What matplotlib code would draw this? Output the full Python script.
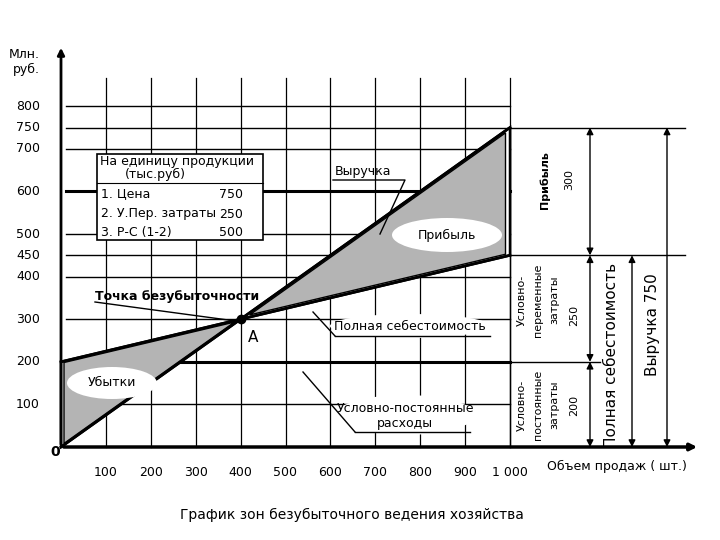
import matplotlib
matplotlib.use("Agg")
import matplotlib.pyplot as plt
import numpy as np
from matplotlib.patches import Ellipse, Polygon

# data
volume = [0, 400, 1000]
revenue = [0, 300, 750]
full_cost = [200, 300, 450]
fixed_cost = 200
x_ticks = [100, 200, 300, 400, 500, 600, 700, 800, 900, 1000]
y_ticks = [100, 200, 300, 400, 500, 600, 700, 800]
y_extra = [450, 750]


def px(x, y):
    # pixel of the reference -> data
    return (x - 61) / 0.449, (447 - y) / 0.426


def zone(pts, k=0.95):
    # outer triangle in white with a slightly smaller grey one inside
    pts = np.array(pts, dtype=float)
    c = pts.mean(axis=0)
    inner = c + (pts - c) * k
    ax.add_patch(Polygon(pts, closed=True, fc="white", ec="black", lw=1.8, zorder=2))
    ax.add_patch(Polygon(inner, closed=True, fc="#b4b4b4", ec="black", lw=1.0, zorder=2))


fig = plt.figure(figsize=(7.2, 5.4), dpi=100)
ax = fig.add_axes([0, 0, 1, 1])
x0, y0 = px(0, 540)
x1, y1 = px(720, 0)
ax.set_xlim(x0, x1)
ax.set_ylim(y0, y1)
ax.axis("off")

gx0 = px(66, 0)[0]
for v in x_ticks:
    ax.plot([v, v], [0, px(0, 78)[1]], color="black", lw=0.9, zorder=1)
for v in y_ticks:
    lw = 2.2 if v == 600 else 1.0
    ax.plot([gx0, 1000], [v, v], color="black", lw=lw, zorder=1)
ax.plot([gx0, 1000], [fixed_cost, fixed_cost], color="black", lw=2.2, zorder=1)
for v in y_extra:
    ax.plot([gx0, px(685, 0)[0]], [v, v], color="black", lw=1.0, zorder=1)

# axes arrows
ax.annotate("", xy=(0, px(0, 45)[1]), xytext=(0, 0),
            arrowprops=dict(arrowstyle="-|>", lw=2, color="black"))
ax.annotate("", xy=(px(700, 0)[0], 0), xytext=(0, 0),
            arrowprops=dict(arrowstyle="-|>", lw=2.5, color="black"))

# loss / profit zones
zone([(volume[0], revenue[0]), (volume[0], full_cost[0]), (volume[1], full_cost[1])])
zone([(volume[1], full_cost[1]), (volume[2], revenue[2]), (volume[2], full_cost[2])])
ax.plot(volume, revenue, color="black", lw=2, zorder=3)
ax.plot(volume, full_cost, color="black", lw=2, zorder=3)
ax.plot([volume[1]], [full_cost[1]], "o", color="black", ms=6, zorder=3)

fs = 9
# info box
bx, by = px(97, 240)
bx2, by2 = px(263, 154)
ax.add_patch(plt.Rectangle((bx, by), bx2 - bx, by2 - by, fc="white", ec="black", lw=1.2, zorder=3))
ax.plot([bx, bx2], [px(0, 183)[1]] * 2, color="black", lw=0.8, zorder=4)
ax.text(*px(100, 161), "На единицу продукции", fontsize=fs, va="center", zorder=4)
ax.text(*px(125, 174), "(тыс.руб)", fontsize=fs, va="center", zorder=4)
for t, v, yy in [("1. Цена", "750", 194), ("2. У.Пер. затраты", "250", 214), ("3. Р-С (1-2)", "500", 232)]:
    ax.text(*px(101, yy), t, fontsize=fs, va="center", zorder=4)
    ax.text(*px(243, yy), v, fontsize=fs, va="center", ha="right", zorder=4)


def blob(cx, cy, w, h, text):
    c = px(cx, cy)
    ax.add_patch(Ellipse(c, w / 0.449, h / 0.426, fc="white", ec="none", zorder=4))
    ax.text(*c, text, fontsize=fs, ha="center", va="center", zorder=5)


blob(447, 235, 110, 34, "Прибыль")
blob(112, 383, 90, 32, "Убытки")
blob(410, 326, 160, 24, "Полная себестоимость")
ax.add_patch(Ellipse(px(405, 415), 140 / 0.449, 40 / 0.426, fc="white", ec="none", zorder=4))
ax.text(*px(405, 408), "Условно-постоянные", fontsize=fs, ha="center", va="center", zorder=5)
ax.text(*px(405, 423), "расходы", fontsize=fs, ha="center", va="center", zorder=5)
ax.text(*px(335, 171), "Выручка", fontsize=fs, va="center", zorder=5)

lines = [[(333, 180), (405, 180), (380, 234)],
         [(335, 336), (490, 336)],
         [(335, 336), (313, 312)],
         [(355, 432), (470, 432)],
         [(355, 432), (303, 372)],
         [(95, 302), (243, 322)]]
for seg in lines:
    pts = [px(*p) for p in seg]
    ax.plot([p[0] for p in pts], [p[1] for p in pts], color="black", lw=1.0, zorder=6)

ax.text(*px(95, 296), "Точка безубыточности", fontsize=fs, fontweight="bold", va="center", zorder=5)
ax.text(*px(248, 337), "А", fontsize=11, va="center")

# tick labels
for v in x_ticks:
    ax.text(v, px(0, 473)[1], f"{v:,}".replace(",", " "), fontsize=fs, ha="center", va="center")
for v in y_ticks + y_extra:
    ax.text(px(40, 0)[0], v, str(v), fontsize=fs, ha="right", va="center")
ax.text(*px(55, 452), "0", fontsize=10, fontweight="bold", ha="center", va="center")
ax.text(*px(40, 62), "Млн.\nруб.", fontsize=fs, ha="right", va="center")
ax.text(*px(617, 466), "Объем продаж ( шт.)", fontsize=fs, ha="center", va="center")

# right side dimensions
for xp, top, bot in [(590, 750, 450), (590, 450, 200), (590, 200, 0), (632, 450, 0), (667, 750, 0)]:
    ax.annotate("", xy=(px(xp, 0)[0], top), xytext=(px(xp, 0)[0], bot),
                arrowprops=dict(arrowstyle="<|-|>", lw=1.0, color="black", shrinkA=0, shrinkB=0))
ax.plot([px(510, 0)[0], px(600, 0)[0]], [fixed_cost] * 2, color="black", lw=1.0)
ax.plot([1000, 1000], [0, 750], color="black", lw=1.0)

rt = [((545, 180), "Прибыль", True), ((569, 180), "300", False),
      ((522, 300), "Условно-", False), ((538, 300), "переменные", False),
      ((554, 300), "затраты", False), ((574, 315), "250", False),
      ((522, 405), "Условно-", False), ((538, 405), "постоянные", False),
      ((554, 405), "затраты", False), ((574, 405), "200", False)]
for (xx, yy), t, b in rt:
    ax.text(*px(xx, yy), t, rotation=90, fontsize=8, ha="center", va="center",
            fontweight="bold" if b else "normal")
ax.text(*px(611, 355), "Полная себестоимость", rotation=90, fontsize=11, ha="center", va="center")
ax.text(*px(652, 325), "Выручка 750", rotation=90, fontsize=11, ha="center", va="center")

ax.text(*px(352, 515), "График зон безубыточного ведения хозяйства", fontsize=10,
        ha="center", va="center")

fig.savefig("out.png", dpi=100)
